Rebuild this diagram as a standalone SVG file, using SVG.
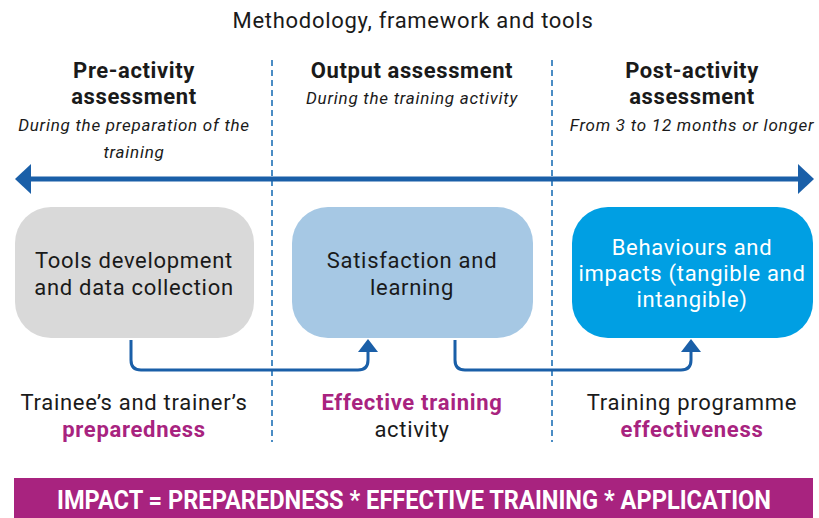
<svg xmlns="http://www.w3.org/2000/svg" width="819" height="518" viewBox="0 0 819 518">
<defs>
<style>
text{font-family:Roboto,"Liberation Sans",sans-serif;text-anchor:middle;fill:#1a1a1a}
.h{font-weight:bold;font-size:22px;letter-spacing:0.6px}
.i{font-style:italic;font-size:17px;letter-spacing:0.75px}
.b{font-size:22px;letter-spacing:0.7px}
.p{font-weight:bold;fill:#a8237f;font-size:22px;letter-spacing:0.7px}
.w{fill:#fff}
.dash{stroke:#4a8cc4;stroke-width:2;stroke-dasharray:6,4;fill:none}
.con{stroke:#1a5fa8;stroke-width:3;fill:none}
</style>
</defs>
<rect width="819" height="518" fill="#fff"/>
<text x="413" y="28" style="font-size:22px;letter-spacing:0.7px">Methodology, framework and tools</text>
<line class="dash" x1="272" y1="60" x2="272" y2="442"/>
<line class="dash" x1="552" y1="60" x2="552" y2="442"/>
<g id="headers">
<text class="h" x="134" y="78">Pre-activity</text>
<text class="h" x="134" y="104">assessment</text>
<text class="i" x="134" y="131">During the preparation of the</text>
<text class="i" x="134" y="158">training</text>
<text class="h" x="412" y="78">Output assessment</text>
<text class="i" x="412" y="104">During the training activity</text>
<text class="h" x="692" y="78">Post-activity</text>
<text class="h" x="692" y="104">assessment</text>
<text class="i" x="692" y="131">From 3 to 12 months or longer</text>
</g>
<g id="timeline">
<line x1="30" y1="179" x2="799" y2="179" stroke="#1a5fa8" stroke-width="5"/>
<path d="M15,179 L31,164 L31,194 z" fill="#1a5fa8"/>
<path d="M814,179 L798,164 L798,194 z" fill="#1a5fa8"/>
</g>
<g id="node1">
<rect x="15" y="207" width="239" height="131" rx="36" fill="#d9d9d9"/>
<text class="b" x="134" y="268">Tools development</text>
<text class="b" x="134" y="295">and data collection</text>
</g>
<g id="node2">
<rect x="292" y="207" width="241" height="131" rx="36" fill="#a6c8e4"/>
<text class="b" x="412" y="268">Satisfaction and</text>
<text class="b" x="412" y="295">learning</text>
</g>
<g id="node3">
<rect x="572" y="207" width="241" height="131" rx="36" fill="#009fe3"/>
<text class="b w" x="692" y="255">Behaviours and</text>
<text class="b w" x="692" y="281">impacts (tangible and</text>
<text class="b w" x="692" y="307">intangible)</text>
</g>
<g id="connectors">
<path class="con" d="M131,340 V360 Q131,370 141,370 H358 Q368,370 368,360 V352"/>
<path d="M368,339 L358,352 L378,352 z" fill="#1a5fa8"/>
<path class="con" d="M455,340 V360 Q455,370 465,370 H681 Q691,370 691,360 V352"/>
<path d="M691,339 L681,352 L701,352 z" fill="#1a5fa8"/>
</g>
<g id="outcomes">
<text class="b" x="134" y="410">Trainee’s and trainer’s</text>
<text class="p" x="134" y="437">preparedness</text>
<text class="p" x="412" y="410">Effective training</text>
<text class="b" x="412" y="437">activity</text>
<text class="b" x="692" y="410">Training programme</text>
<text class="p" x="692" y="437">effectiveness</text>
</g>
<g id="impact">
<rect x="14" y="478" width="799" height="40" fill="#a8237f"/>
<text x="414" y="509" textLength="714" lengthAdjust="spacingAndGlyphs" style="fill:#fff;font-weight:bold;font-size:25px">IMPACT = PREPAREDNESS * EFFECTIVE TRAINING * APPLICATION</text>
</g>
</svg>
